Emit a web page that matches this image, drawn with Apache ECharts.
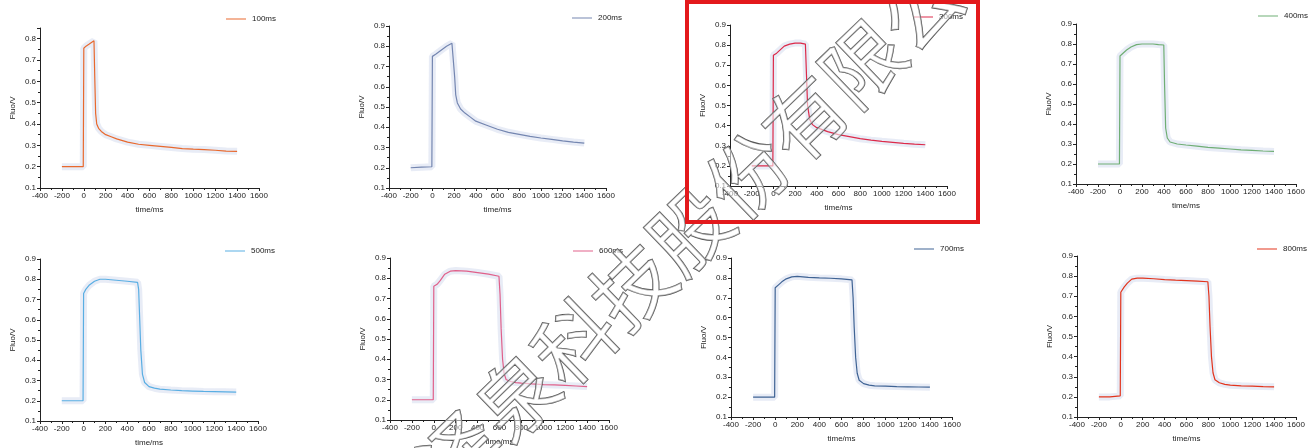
<!DOCTYPE html>
<html>
<head>
<meta charset="utf-8">
<script src="https://cdn.jsdelivr.net/npm/echarts@6/dist/echarts.min.js"></script>
<style>
  html, body { margin: 0; padding: 0; background: #fff; }
  #chart { width: 1311px; height: 448px; }
</style>
</head>
<body>
<div id="chart"></div>
<script>
// pulse names, one panel each
const names = ['100ms', '200ms', '300ms', '400ms', '500ms', '600ms', '700ms', '800ms'];
const colors = ['#e8692e', '#7486b0', '#dc2a4a', '#6fae74', '#59aee3', '#e0608a', '#3f6394', '#e2341d'];

// time (ms) and fluorescence (V)
const t100 = [-200, -150, -100, -50, -5, 0, 20, 50, 93, 100, 108, 118, 135, 160, 200, 250, 300, 400, 500, 600, 700, 800, 900, 1000, 1100, 1200, 1300, 1400];
const f100 = [0.20, 0.20, 0.20, 0.20, 0.20, 0.755, 0.765, 0.775, 0.79, 0.62, 0.45, 0.40, 0.38, 0.365, 0.35, 0.34, 0.33, 0.315, 0.305, 0.30, 0.295, 0.29, 0.285, 0.282, 0.28, 0.277, 0.273, 0.272];

const t200 = [-200, -100, -5, 0, 30, 80, 130, 180, 195, 205, 215, 230, 260, 300, 350, 400, 500, 600, 700, 800, 900, 1000, 1100, 1200, 1300, 1400];
const f200 = [0.20, 0.203, 0.205, 0.75, 0.76, 0.78, 0.80, 0.815, 0.82, 0.65, 0.56, 0.52, 0.49, 0.47, 0.45, 0.43, 0.41, 0.39, 0.375, 0.365, 0.355, 0.347, 0.34, 0.333, 0.327, 0.322];

const t300 = [-200, -100, -5, 0, 30, 60, 100, 150, 200, 250, 295, 305, 315, 335, 360, 400, 500, 600, 700, 800, 900, 1000, 1100, 1200, 1300, 1400];
const f300 = [0.20, 0.20, 0.20, 0.75, 0.76, 0.775, 0.795, 0.805, 0.81, 0.81, 0.805, 0.65, 0.50, 0.43, 0.405, 0.39, 0.37, 0.355, 0.345, 0.335, 0.328, 0.322, 0.317, 0.312, 0.308, 0.305];

const t400 = [-200, -100, -5, 0, 30, 60, 100, 150, 200, 250, 300, 350, 398, 405, 415, 430, 455, 520, 600, 700, 800, 900, 1000, 1100, 1200, 1300, 1400];
const f400 = [0.20, 0.20, 0.20, 0.74, 0.755, 0.77, 0.785, 0.797, 0.80, 0.80, 0.80, 0.797, 0.795, 0.60, 0.38, 0.33, 0.31, 0.30, 0.295, 0.289, 0.283, 0.279, 0.275, 0.271, 0.268, 0.265, 0.263];

const t500 = [-200, -100, -5, 0, 20, 50, 100, 150, 200, 300, 400, 495, 505, 515, 525, 540, 560, 600, 650, 700, 800, 900, 1000, 1100, 1200, 1300, 1400];
const f500 = [0.20, 0.20, 0.20, 0.73, 0.75, 0.77, 0.79, 0.80, 0.80, 0.795, 0.79, 0.785, 0.75, 0.60, 0.45, 0.33, 0.29, 0.27, 0.262, 0.257, 0.253, 0.25, 0.248, 0.246, 0.245, 0.244, 0.243];

const t600 = [-200, -100, -5, 0, 30, 60, 100, 150, 200, 300, 400, 500, 595, 605, 615, 628, 642, 660, 700, 750, 800, 900, 1000, 1100, 1200, 1300, 1400];
const f600 = [0.20, 0.20, 0.20, 0.76, 0.77, 0.79, 0.82, 0.835, 0.838, 0.835, 0.828, 0.82, 0.81, 0.72, 0.55, 0.40, 0.33, 0.30, 0.29, 0.285, 0.282, 0.278, 0.275, 0.273, 0.271, 0.268, 0.265];

const t700 = [-200, -100, -5, 0, 30, 60, 100, 150, 200, 300, 400, 500, 600, 695, 705, 715, 728, 742, 760, 800, 850, 900, 1000, 1100, 1200, 1300, 1400];
const f700 = [0.20, 0.20, 0.20, 0.75, 0.765, 0.78, 0.795, 0.805, 0.808, 0.803, 0.80, 0.798, 0.795, 0.79, 0.70, 0.55, 0.40, 0.32, 0.285, 0.268, 0.26, 0.257, 0.255, 0.253, 0.252, 0.251, 0.25];

const t800 = [-200, -100, -5, 0, 30, 60, 100, 150, 200, 300, 400, 500, 600, 700, 795, 805, 815, 828, 842, 860, 900, 950, 1000, 1100, 1200, 1300, 1400];
const f800 = [0.20, 0.20, 0.205, 0.72, 0.745, 0.765, 0.785, 0.79, 0.79, 0.787, 0.783, 0.78, 0.778, 0.775, 0.772, 0.70, 0.55, 0.40, 0.32, 0.285, 0.27, 0.262, 0.258, 0.255, 0.253, 0.251, 0.25];

const times = [t100, t200, t300, t400, t500, t600, t700, t800];
const fluos = [f100, f200, f300, f400, f500, f600, f700, f800];

// axis ranges
const xMin = -400, xMax = 1600, xStep = 200;
const yMins = [0.1, 0.1, 0.1, 0.1, 0.1, 0.1, 0.1, 0.1];
const yMaxs = [0.85, 0.9, 0.9, 0.9, 0.9, 0.9, 0.9, 0.9];
const yStep = 0.1;

// panel placement (plot area in px) and legend spots
const grids = [
  { left: 40, top: 28, width: 219, height: 160 },
  { left: 389, top: 26, width: 217, height: 162 },
  { left: 730, top: 25, width: 217, height: 161 },
  { left: 1076, top: 24, width: 220, height: 160 },
  { left: 40, top: 259, width: 218, height: 162 },
  { left: 390, top: 258, width: 219, height: 162 },
  { left: 731, top: 258, width: 221, height: 159 },
  { left: 1077, top: 256, width: 219, height: 161 }
];
const legendPos = [[221, 10], [567, 9], [908, 8], [1253, 7], [220, 242], [568, 242], [909, 240], [1252, 240]];

const font = 'Liberation Sans, Arial, sans-serif';
const ink = '#222';

let option = {
  backgroundColor: '#fff',
  animation: false,
  textStyle: { fontFamily: font },
  grid: [], xAxis: [], yAxis: [], series: [], legend: [],
  graphic: []
};

names.forEach((name, i) => {
  option.grid.push(grids[i]);
  option.xAxis.push({
    gridIndex: i, type: 'value', min: xMin, max: xMax, interval: xStep,
    name: 'time/ms', nameLocation: 'middle', nameGap: 18,
    nameTextStyle: { fontSize: 8, color: ink, fontFamily: font },
    axisLine: { show: true, onZero: false, lineStyle: { color: ink, width: 1 } },
    axisTick: { show: true, length: 3, lineStyle: { color: ink } },
    minorTick: { show: true, splitNumber: 2, length: 2, lineStyle: { color: ink } },
    axisLabel: { fontSize: 8, color: ink, margin: 4, fontFamily: font, formatter: v => String(v) },
    splitLine: { show: false }
  });
  option.yAxis.push({
    gridIndex: i, type: 'value', min: yMins[i], max: yMaxs[i], interval: yStep,
    name: 'Fluo/V', nameLocation: 'middle', nameGap: 23,
    nameTextStyle: { fontSize: 8, color: ink, fontFamily: font },
    axisLine: { show: true, onZero: false, lineStyle: { color: ink, width: 1 } },
    axisTick: { show: true, length: 3, lineStyle: { color: ink } },
    minorTick: { show: true, splitNumber: 2, length: 2, lineStyle: { color: ink } },
    axisLabel: {
      fontSize: 8, color: ink, margin: 4, fontFamily: font, showMaxLabel: yMaxs[i] === 0.9,
      formatter: v => v.toFixed(1)
    },
    splitLine: { show: false }
  });
  const pts = times[i].map((t, k) => [t, fluos[i][k]]);
  // faint error band behind the trace
  option.series.push({
    name: name + ' band', type: 'line', xAxisIndex: i, yAxisIndex: i,
    data: pts, symbol: 'none', silent: true,
    lineStyle: { color: 'rgba(150,170,215,0.22)', width: 7 }, z: 1
  });
  option.series.push({
    name: name, type: 'line', xAxisIndex: i, yAxisIndex: i,
    data: pts, symbol: 'none', color: colors[i],
    lineStyle: { color: colors[i], width: 1.2 }, z: 2
  });
  option.legend.push({
    data: [name], left: legendPos[i][0], top: legendPos[i][1],
    icon: 'rect', itemWidth: 20, itemHeight: 1, itemGap: 0,
    textStyle: { fontSize: 8, color: ink, fontFamily: font, padding: [0, 0, 0, 1] },
    selectedMode: false
  });
});

// red frame round the 300ms panel
option.graphic.push({
  type: 'rect', shape: { x: 687, y: 2, width: 291, height: 220 },
  style: { fill: 'none', stroke: '#e3191c', lineWidth: 4 }, z: 100
});
// diagonal watermark
option.graphic.push({
  type: 'text', x: 661, y: 258, rotation: 44 * Math.PI / 180,
  style: {
    text: '上海泽泉科技股份有限公司', fontSize: 80, fontFamily: 'Noto Sans CJK SC',
    fontWeight: 400,
    fill: 'rgba(255,255,255,0.55)', stroke: '#555', lineWidth: 1.4,
    align: 'center', verticalAlign: 'middle'
  },
  z: 90
});

const chart = echarts.init(document.getElementById('chart'));
chart.setOption(option);
</script>
</body>
</html>
